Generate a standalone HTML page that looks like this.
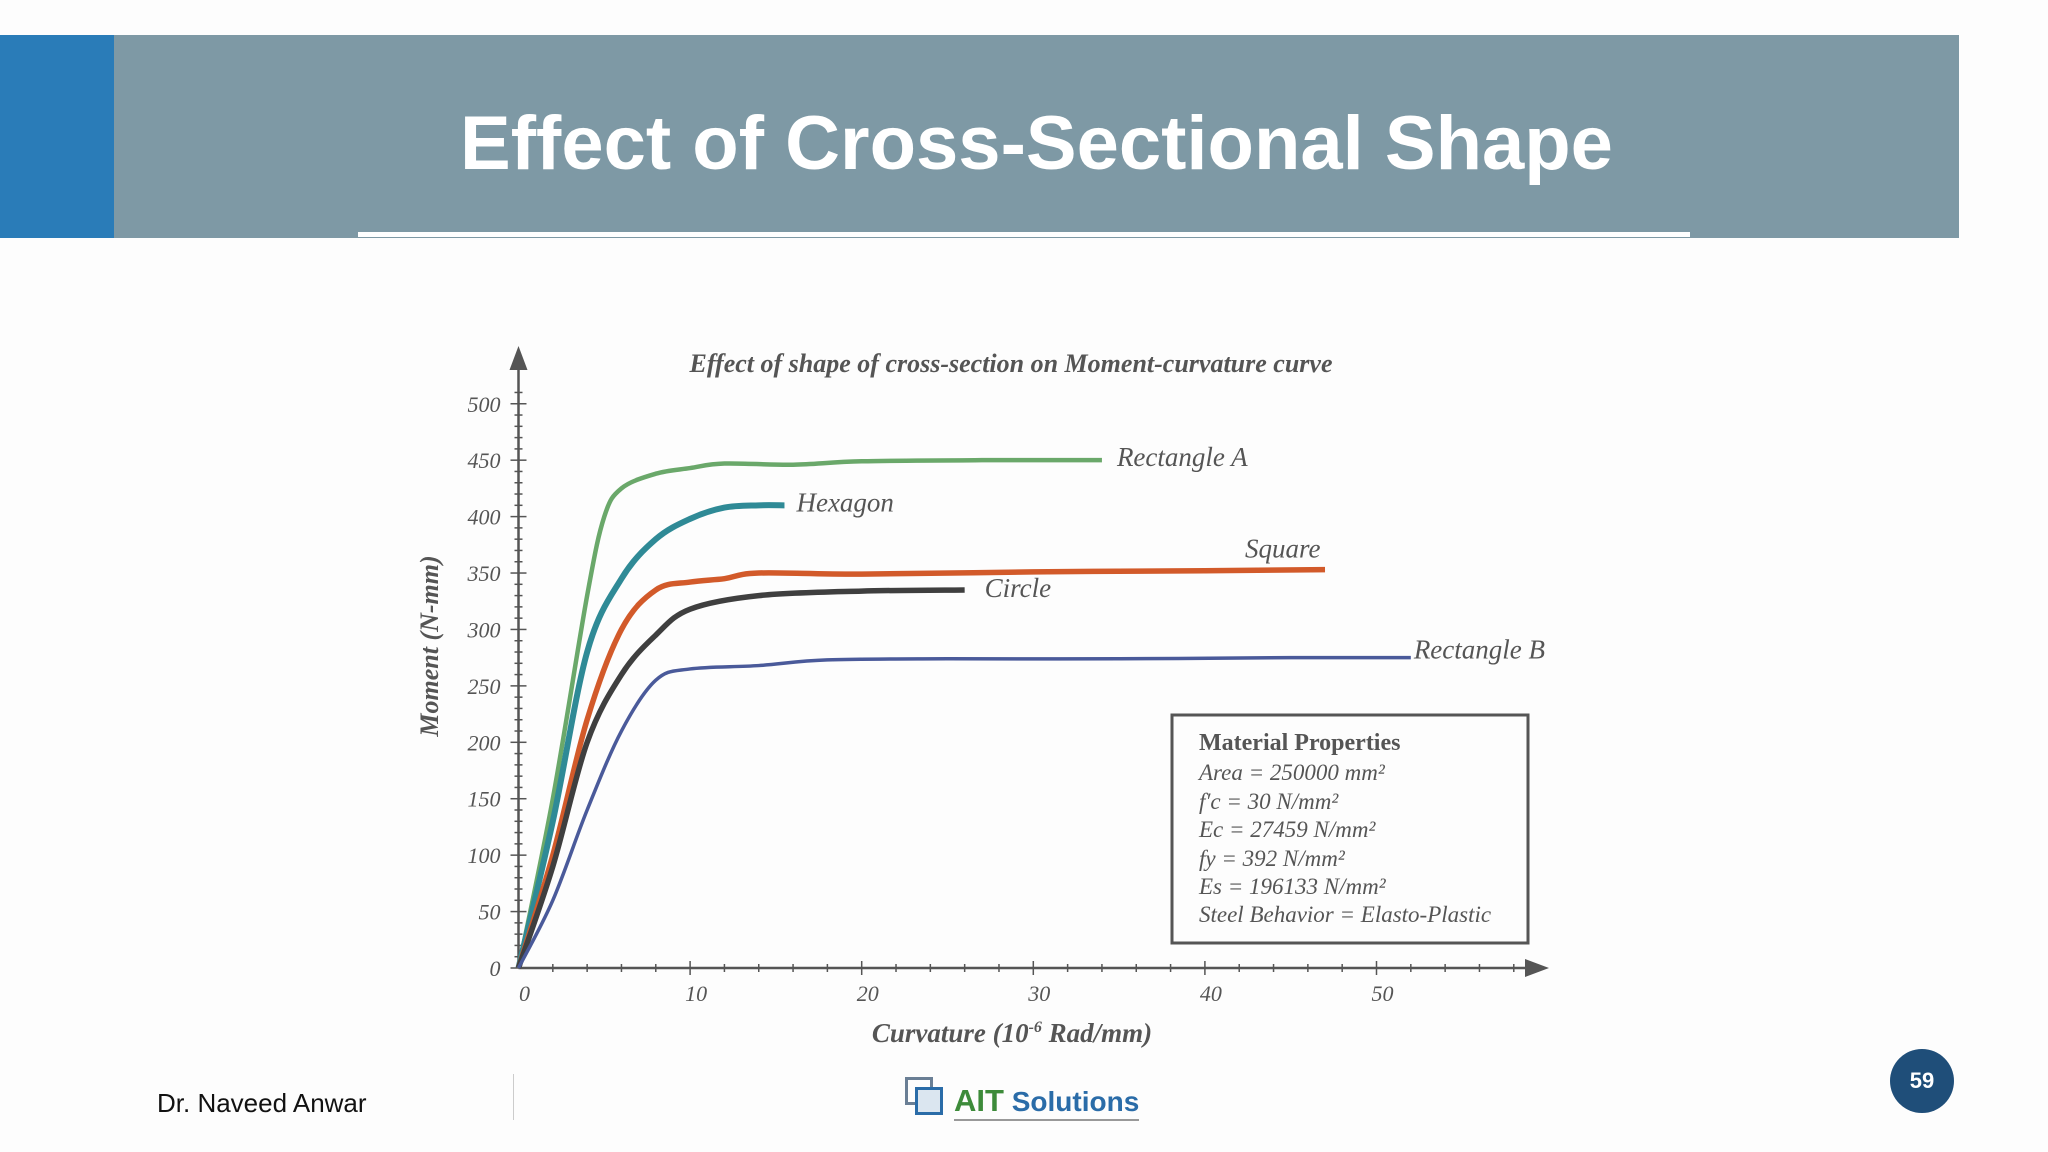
<!DOCTYPE html>
<html><head><meta charset="utf-8"><style>
body{margin:0;width:2048px;height:1152px;background:#fdfdfd;position:relative;overflow:hidden;font-family:"Liberation Sans",sans-serif}
.band{position:absolute;left:0;top:35px;width:1959px;height:203px;background:#7e99a5}
.blue{position:absolute;left:0;top:35px;width:114px;height:203px;background:#2a7cb8}
.line{position:absolute;left:358px;top:232px;width:1332px;height:5px;background:#fff}
.title{position:absolute;left:114px;width:1845px;top:94px;text-align:center;color:#fff;font-weight:bold;font-size:76px;line-height:100px}
</style></head><body>
<div class="band"></div>
<div class="blue"></div>
<div class="line"></div>
<div class="title">Effect of Cross-Sectional Shape</div>
<svg id="chart" width="2048" height="1152" style="position:absolute;left:0;top:0"></svg>
<div style="position:absolute;left:157px;top:1088px;font-size:26px;color:#111">Dr. Naveed Anwar</div>
<div style="position:absolute;left:513px;top:1074px;width:1px;height:46px;background:#ccc"></div>
<div style="position:absolute;left:905px;top:1077px;width:36px;height:36px">
<div style="position:absolute;left:0;top:0;width:22px;height:22px;border:3px solid #6a7f95"></div>
<div style="position:absolute;left:10px;top:10px;width:22px;height:22px;border:3px solid #2a6ca8;background:#dbe6f0"></div></div>
<div style="position:absolute;left:954px;top:1084px;font-size:31px;font-weight:bold;color:#3d8b3a;border-bottom:2px solid #999;line-height:34px">AIT<span style="color:#2a6ca8;font-size:28px"> Solutions</span></div>
<div style="position:absolute;left:1890px;top:1049px;width:64px;height:64px;border-radius:50%;background:#1f4e79;color:#fff;font-weight:bold;font-size:22px;text-align:center;line-height:64px">59</div>
<script>
const categories=["Rectangle A","Hexagon","Square","Circle","Rectangle B"];
const colors=["#6aa86a","#2f8a96","#d25a2a","#3f3f3f","#4a5a9a"];
const rectAx=[0,2,4,5,6,8,10,12,16,20,27,34];
const rectAy=[0,150,330,400,425,438,443,447,446,449,450,450];
const hexX=[0,2,4,6,8,10,12,14,15.5];
const hexY=[0,130,280,345,380,398,408,410,410];
const sqX=[0,2,4,6,8,10,12,14,20,30,40,47];
const sqY=[0,100,220,300,335,342,345,350,349,351,352,353];
const cirX=[0,2,4,6,8,10,14,20,26];
const cirY=[0,90,200,260,295,318,330,334,335];
const rectBx=[0,2,4,6,8,10,14,18,25,35,45,52];
const rectBy=[0,60,140,210,255,265,268,273,274,274,275,275];
const yTicks=[0,50,100,150,200,250,300,350,400,450,500];
const xTicks=[0,10,20,30,40,50];
const labelAt=[[34,450],[15.5,410],[47,353],[26,335],[52,275]];
const X0=518.5,Y0=968,KX=17.16,KY=1.1285;
const sx=v=>X0+v*KX, sy=v=>Y0-v*KY;
const svg=document.getElementById('chart');const NS='http://www.w3.org/2000/svg';
function mk(t,a,txt){const e=document.createElementNS(NS,t);for(const k in a)e.setAttribute(k,a[k]);if(txt!=null)e.textContent=txt;svg.appendChild(e);return e;}
const serif='"Liberation Serif",serif';
let e;
e=mk('text',{x:1011,y:372,'text-anchor':'middle','font-family':serif,'font-style':'italic','font-weight':'bold','font-size':26,fill:'#555'},'Effect of shape of cross-section on Moment-curvature curve');

e=mk('line',{x1:X0,y1:Y0,x2:X0,y2:360,stroke:'#555','stroke-width':2.5});

mk('path',{d:`M${X0-9} 370 L${X0} 346 L${X0+9} 370 Z`,fill:'#555'});
e=mk('line',{x1:X0,y1:Y0,x2:1535,y2:Y0,stroke:'#555','stroke-width':2.5});

mk('path',{d:`M1525 ${Y0-9} L1549 ${Y0} L1525 ${Y0+9} Z`,fill:'#555'});
for(let v=0;v<=510;v+=10){const big=v%50==0;mk('line',{x1:X0-(big?8:4),y1:sy(v),x2:X0+(big?8:4),y2:sy(v),stroke:'#555','stroke-width':1.5});}
for(let v=2;v<=58;v+=2){const big=v%10==0;mk('line',{x1:sx(v),y1:Y0-(big?7:4),x2:sx(v),y2:Y0+(big?7:4),stroke:'#555','stroke-width':1.5});}
yTicks.forEach(v=>{e=mk('text',{x:X0-18,y:sy(v)+8,'text-anchor':'end','font-family':serif,'font-style':'italic','font-size':22,fill:'#555'},String(v));
});
xTicks.forEach(v=>{e=mk('text',{x:sx(v)+6,y:1001,'text-anchor':'middle','font-family':serif,'font-style':'italic','font-size':22,fill:'#555'},String(v));
});
e=mk('text',{x:0,y:0,transform:'translate(438,646) rotate(-90)','text-anchor':'middle','font-family':serif,'font-style':'italic','font-weight':'bold','font-size':26,fill:'#555'},'Moment (N-mm)');

e=mk('text',{x:1012,y:1042,'text-anchor':'middle','font-family':serif,'font-style':'italic','font-weight':'bold','font-size':27,fill:'#555'});
e.innerHTML='Curvature (10<tspan dy="-10" font-size="16">-6</tspan><tspan dy="10"> Rad/mm)</tspan>';

function spline(xs,ys){const p=xs.map((x,i)=>[sx(x),sy(ys[i])]);let d=`M${p[0][0]} ${p[0][1]}`;
for(let i=0;i<p.length-1;i++){const a=p[Math.max(i-1,0)],b=p[i],c=p[i+1],n=p[Math.min(i+2,p.length-1)];
const c1=[b[0]+(c[0]-a[0])/6,b[1]+(c[1]-a[1])/6],c2=[c[0]-(n[0]-b[0])/6,c[1]-(n[1]-b[1])/6];
d+=` C${c1[0]} ${c1[1]} ${c2[0]} ${c2[1]} ${c[0]} ${c[1]}`;}return d;}
const series=[[rectAx,rectAy],[hexX,hexY],[sqX,sqY],[cirX,cirY],[rectBx,rectBy]];
const names=['rectangle-a-line','hexagon-line','square-line','circle-line','rectangle-b-line'];
const widths=[4.5,6,5.5,5.5,3.5];
series.forEach((s,i)=>{e=mk('path',{d:spline(s[0],s[1]),fill:'none',stroke:colors[i],'stroke-width':widths[i]});
});
const lo=[[15,6],[12,6],[-80,-12],[20,7],[3,1]];
categories.forEach((c,i)=>{const[lx,ly]=labelAt[i];e=mk('text',{x:sx(lx)+lo[i][0],y:sy(ly)+lo[i][1],'font-family':serif,'font-style':'italic','font-size':27,fill:'#555'},c);
});
e=mk('rect',{x:1172,y:715,width:356,height:228,fill:'none',stroke:'#555','stroke-width':3});

const lines=[['Material Properties',1],['Area = 250000 mm²',0],['f′c  = 30        N/mm²',0],['Ec = 27459    N/mm²',0],['fy  = 392      N/mm²',0],['Es = 196133   N/mm²',0],['Steel Behavior = Elasto-Plastic',0]];
const ly=[750,780,809,837,866,894,922];
lines.forEach((l,i)=>{e=mk('text',{x:1199,y:ly[i],'font-family':serif,'font-style':l[1]?'normal':'italic','font-weight':l[1]?'bold':'normal','font-size':l[1]?24:23,fill:'#555','xml:space':'preserve'},l[0]);
});
</script>
</body></html>
